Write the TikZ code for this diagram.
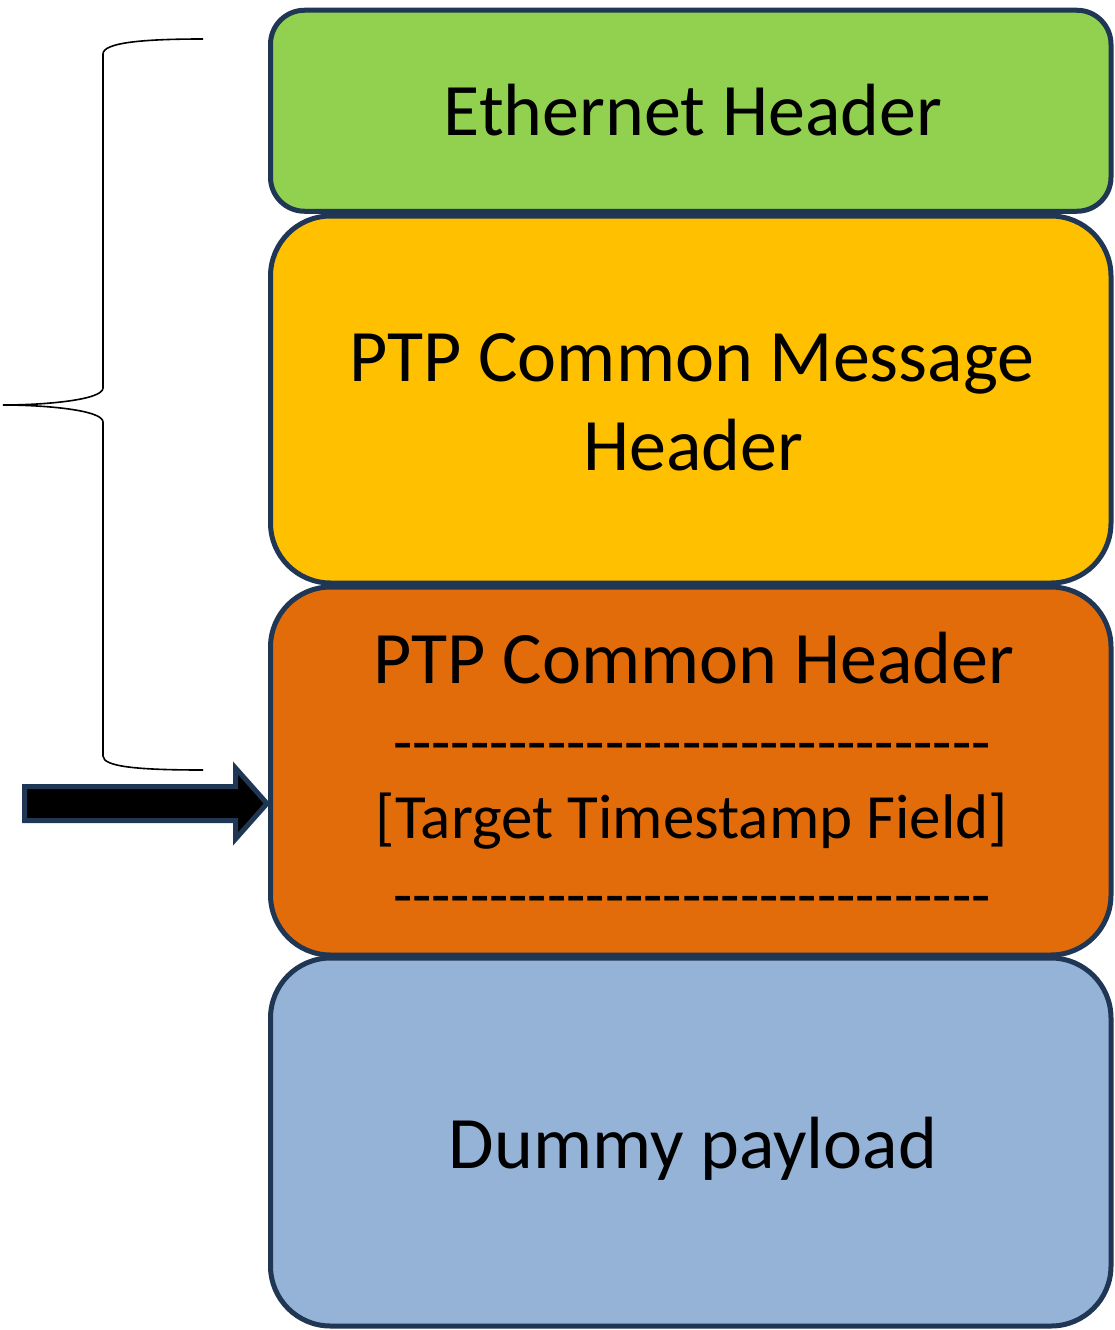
\documentclass[tikz,border=0pt]{standalone}
\usepackage{fontspec}
\setmainfont{Carlito}
\definecolor{edge}{RGB}{31,54,84}
\definecolor{ethgreen}{HTML}{92D050}
\definecolor{ptpyellow}{HTML}{FFC000}
\definecolor{ptporange}{HTML}{E36C0A}
\definecolor{payblue}{HTML}{95B3D7}
% a row of separate hyphens (no dash ligatures)
\newcommand\hyphenrow{-{}-{}-{}-{}-{}-{}-{}-{}-{}-{}-{}-{}-{}-{}-{}-{}-{}-{}-{}-{}-{}-{}-{}-{}-{}-{}-{}-{}-{}-{}-{}}
\tikzset{
  layer/.style={draw=edge, line width=5pt, rectangle, inner sep=0pt,
    minimum width=840.5pt},
  big/.style={anchor=base, inner sep=0pt, font=\fontsize{74}{90}\selectfont},
  small/.style={anchor=base, inner sep=0pt, font=\fontsize{63}{77}\selectfont},
  brace/.style={draw=black, line width=1.6pt},
  blockarrow/.style={draw=edge, fill=black, line width=5pt, line join=miter}
}
\begin{document}
\begin{tikzpicture}[x=1pt, y=-1pt]
  \useasboundingbox (0,0) rectangle (1115,1330);

  % packet layers, top to bottom
  \node[layer, fill=ethgreen,  rounded corners=34pt, minimum height=201pt] (eth)  at (690.75,110.75) {};
  \node[layer, fill=ptpyellow, rounded corners=60pt, minimum height=367pt] (msg)  at (690.75,399.5) {};
  \node[layer, fill=ptporange, rounded corners=60pt, minimum height=368pt] (ptp)  at (690.75,771) {};
  \node[layer, fill=payblue,   rounded corners=60pt, minimum height=368pt] (pay)  at (690.75,1142) {};

  % labels
  \node[big]   (ethlbl)  at (693,135)  {Ethernet Header};
  \node[big]   (msglbl1) at (692,381)  {PTP Common Message};
  \node[big]   (msglbl2) at (693,470)  {Header};
  \node[big]   (ptplbl)  at (694,683)  {PTP Common Header};
  \node[small] (dash1)   at (692,763)  {\hyphenrow};
  \node[small] (tslbl)   at (692,838)  {[Target Timestamp Field]};
  \node[small] (dash2)   at (692,916)  {\hyphenrow};
  \node[big]   (paylbl)  at (693,1168) {Dummy payload};

  % curly brace spanning the header layers
  \coordinate (btop) at (203,39);
  \coordinate (btip) at (3,405);
  \coordinate (bbot) at (203,770);
  \draw[brace] (btop) .. controls (140,39) and (103,43) .. (103,54)
    -- (103,388) .. controls (103,400) and (45,405) .. (btip)
    .. controls (45,405) and (103,410) .. (103,422)
    -- (103,756) .. controls (103,767) and (140,770) .. (bbot);

  % block arrow pointing at the timestamp field
  \coordinate (atip) at (267,803.5);
  \draw[blockarrow] (24.5,786.5) -- (235.5,786.5) -- (235.5,768) -- (atip)
    -- (235.5,839) -- (235.5,820.5) -- (24.5,820.5) -- cycle;
\end{tikzpicture}
\end{document}
